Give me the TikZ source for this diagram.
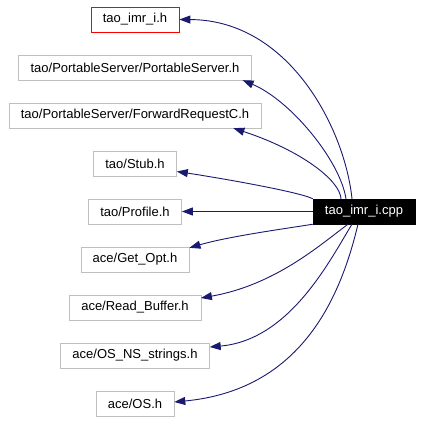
\documentclass[tikz,border=0pt]{standalone}
\usepackage{fontspec}
\setmainfont{Liberation Sans}
\usetikzlibrary{arrows.meta,positioning}
\definecolor{edgeblue}{HTML}{191970}
\definecolor{boxgray}{HTML}{BFBFBF}

\begin{document}
\begin{tikzpicture}[x=1pt,y=-1pt,
            file/.style={draw=boxgray,rectangle,minimum height=25pt,inner xsep=12pt,inner ysep=2pt,font=\fontsize{13}{15}\selectfont,node distance=48},
            mainfile/.style={file,draw=red},
            src/.style={file,draw=black,fill=black,text=white},
            dep/.style={draw=edgeblue,line width=.9pt,-{Triangle[length=11pt,width=8pt]}}
          ]
          \useasboundingbox (0,0) rectangle (421,421);

          %headers
          \node[mainfile] (imrh) at (135,19.5) {tao\_imr\_i.h};
          \node[below of = imrh,file] (ps) {tao/PortableServer/PortableServer.h};
          \node[below of = ps,file] (frc) {tao/PortableServer/ForwardRequestC.h};
          \node[below of = frc,file] (stub) {tao/Stub.h};
          \node[below of = stub,file] (prof) {tao/Profile.h};
          \node[below of = prof,file] (getopt) {ace/Get\_Opt.h};
          \node[below of = getopt,file] (rbuf) {ace/Read\_Buffer.h};
          \node[below of = rbuf,file] (nsstr) {ace/OS\_NS\_strings.h};
          \node[below of = nsstr,file] (os) {ace/OS.h};

          %source
          \node[right of = prof,src,node distance=229] (cpp) {tao\_imr\_i.cpp};

          %includes
          \path[dep] ([xshift=-12pt]cpp.north) .. controls (345,130) and (290,20) .. (imrh.east);
          \path[dep] ([xshift=-18pt]cpp.north) .. controls (340,160) and (290,100) .. ([xshift=-9pt]ps.south east);
          \path[dep] ([xshift=-23pt]cpp.north) .. controls (340,180) and (300,150) .. ([xshift=-28pt]frc.south east);
          \path[dep] (cpp.north west) .. controls (300,192) and (220,178) .. ([yshift=-8pt]stub.east);
          \path[dep] (cpp.west) -- (prof.east);
          \path[dep] (cpp.south west) .. controls (290,228) and (230,236) .. ([yshift=-1pt]getopt.north east);
          \path[dep] ([xshift=-16pt]cpp.south) .. controls (320,245) and (275,285) .. ([yshift=9.5pt]rbuf.east);
          \path[dep] ([xshift=-12pt]cpp.south) .. controls (330,260) and (290,340) .. ([yshift=8.5pt]nsstr.east);
          \path[dep] ([xshift=-6pt]cpp.south) .. controls (340,300) and (300,390) .. ([yshift=1.5pt]os.east);
      \end{tikzpicture}
\end{document}
